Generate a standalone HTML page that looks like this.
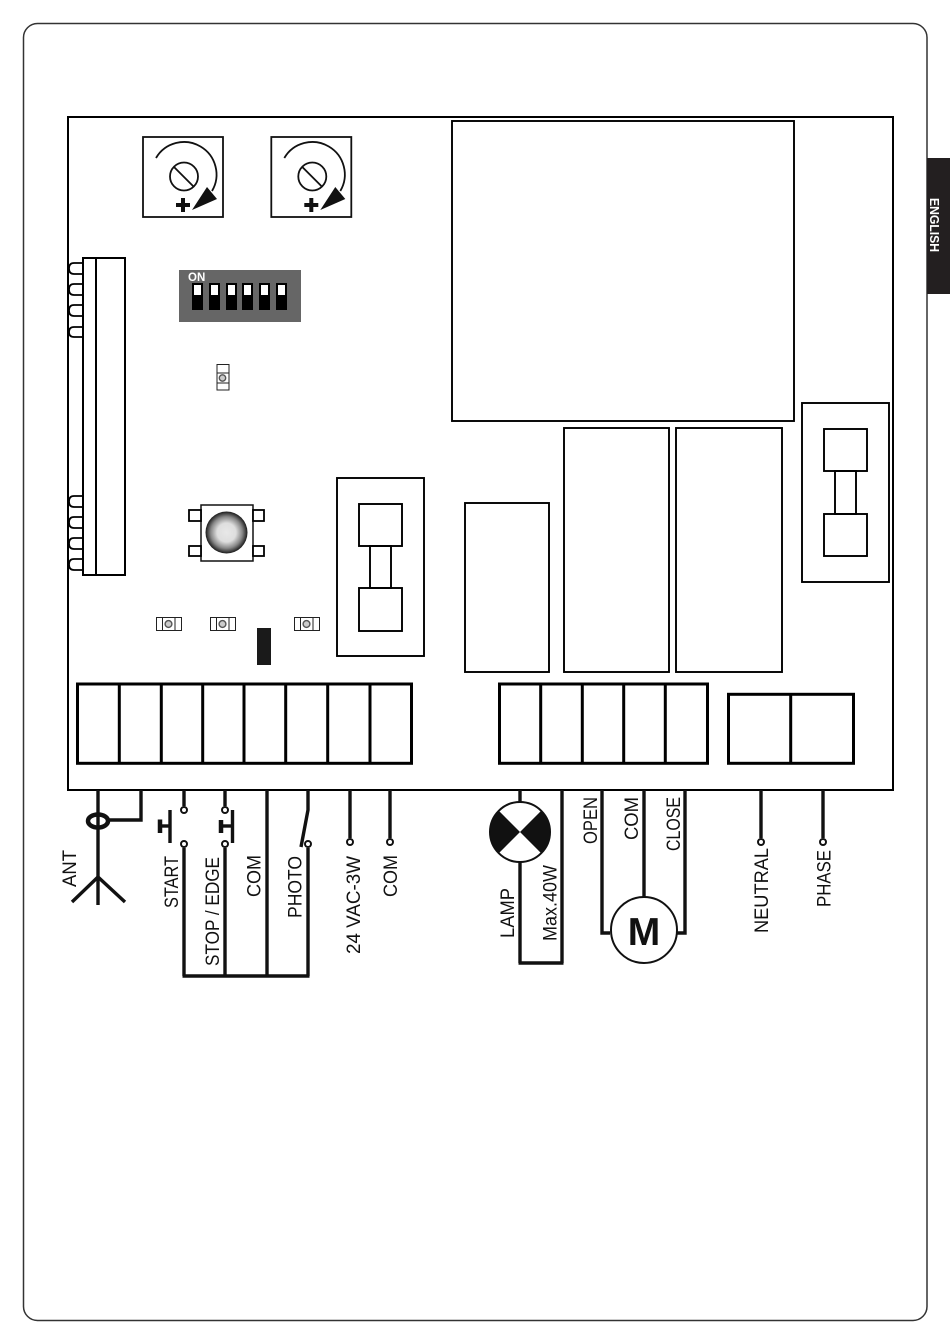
<!DOCTYPE html>
<html>
<head>
<meta charset="utf-8">
<style>
html,body{margin:0;padding:0;background:#fff;width:950px;height:1344px;overflow:hidden}
svg{display:block}
text{font-family:"Liberation Sans",sans-serif;fill:#111}
.l{font-size:19px}
</style>
</head>
<body>
<svg width="950" height="1344" viewBox="0 0 950 1344" xmlns="http://www.w3.org/2000/svg">
<defs>
<radialGradient id="b" cx="50%" cy="50%" r="50%">
<stop offset="0" stop-color="#e8e8e8"/>
<stop offset="0.45" stop-color="#dedede"/>
<stop offset="0.75" stop-color="#888"/>
<stop offset="1" stop-color="#1a1a1a"/>
</radialGradient>
</defs>
<rect width="950" height="1344" fill="#fff"/>
<rect x="23.5" y="23.5" width="903.5" height="1297" rx="14" fill="none" stroke="#333" stroke-width="1.5"/>
<rect x="927" y="158" width="23" height="136" fill="#231f20"/>
<text transform="translate(930,198) rotate(90)" font-size="13" font-weight="bold" style="fill:#fff" textLength="54" lengthAdjust="spacingAndGlyphs">ENGLISH</text>

<rect x="68" y="117" width="825" height="673" fill="none" stroke="#000" stroke-width="2"/>

<!-- trimmers -->
<g>
<rect x="143" y="137" width="80" height="80" fill="none" stroke="#111" stroke-width="1.8"/>
<circle cx="184" cy="176.5" r="14" fill="none" stroke="#111" stroke-width="1.8"/>
<line x1="174" y1="167" x2="194" y2="187" stroke="#111" stroke-width="1.8"/>
<path d="M156 158 A32.5 32.5 0 1 1 212 191" fill="none" stroke="#111" stroke-width="1.8"/>
<polygon points="207,187 217,199 192,210" fill="#111"/>
<rect x="176" y="203" width="14" height="4" fill="#111"/>
<rect x="181" y="198" width="4" height="14" fill="#111"/>
</g>
<g transform="translate(128.3,0)">
<rect x="143" y="137" width="80" height="80" fill="none" stroke="#111" stroke-width="1.8"/>
<circle cx="184" cy="176.5" r="14" fill="none" stroke="#111" stroke-width="1.8"/>
<line x1="174" y1="167" x2="194" y2="187" stroke="#111" stroke-width="1.8"/>
<path d="M156 158 A32.5 32.5 0 1 1 212 191" fill="none" stroke="#111" stroke-width="1.8"/>
<polygon points="207,187 217,199 192,210" fill="#111"/>
<rect x="176" y="203" width="14" height="4" fill="#111"/>
<rect x="181" y="198" width="4" height="14" fill="#111"/>
</g>

<!-- DIP -->
<rect x="179" y="270" width="122" height="52" fill="#666"/>
<text x="188" y="281" font-size="11.5" font-weight="bold" style="fill:#fff">ON</text>
<g fill="#000">
<rect x="192" y="283" width="11" height="27"/><rect x="209" y="283" width="11" height="27"/><rect x="226" y="283" width="11" height="27"/><rect x="242" y="283" width="11" height="27"/><rect x="259" y="283" width="11" height="27"/><rect x="276" y="283" width="11" height="27"/>
</g>
<g fill="#fff">
<rect x="194" y="285" width="7" height="10"/><rect x="211" y="285" width="7" height="10"/><rect x="228" y="285" width="7" height="10"/><rect x="244" y="285" width="7" height="10"/><rect x="261" y="285" width="7" height="10"/><rect x="278" y="285" width="7" height="10"/>
</g>

<!-- left connector -->
<rect x="83" y="258" width="42" height="317" fill="none" stroke="#000" stroke-width="2"/>
<line x1="96" y1="258" x2="96" y2="575" stroke="#000" stroke-width="2"/>
<g fill="none" stroke="#000" stroke-width="1.8">
<path d="M83 263H74Q69 263 69 268.5Q69 274 74 274H83"/>
<path d="M83 284H74Q69 284 69 289.5Q69 295 74 295H83"/>
<path d="M83 305H74Q69 305 69 310.5Q69 316 74 316H83"/>
<path d="M83 327H74Q69 327 69 332Q69 337 74 337H83"/>
<path d="M83 496H74Q69 496 69 501.5Q69 507 74 507H83"/>
<path d="M83 517H74Q69 517 69 522.5Q69 528 74 528H83"/>
<path d="M83 538H74Q69 538 69 543.5Q69 549 74 549H83"/>
<path d="M83 559H74Q69 559 69 564.5Q69 570 74 570H83"/>
</g>

<!-- small component vertical -->
<rect x="217" y="364.5" width="12" height="25.5" fill="#fff" stroke="#222" stroke-width="1"/>
<line x1="217" y1="373" x2="229" y2="373" stroke="#222"/>
<line x1="217" y1="383" x2="229" y2="383" stroke="#222"/>
<circle cx="222.5" cy="378" r="3.2" fill="#ccc" stroke="#555" stroke-width="1.4"/>

<!-- push button -->
<rect x="201" y="505" width="52" height="56" fill="#fff" stroke="#111" stroke-width="1.5"/>
<g fill="#fff" stroke="#000" stroke-width="1.8">
<rect x="189" y="510" width="12" height="11"/><rect x="189" y="546" width="12" height="10"/>
<rect x="253" y="510" width="11" height="11"/><rect x="253" y="546" width="11" height="10"/>
</g>
<circle cx="226.5" cy="532.5" r="21" fill="url(#b)"/>

<!-- small components horizontal -->
<g fill="none" stroke="#222" stroke-width="1">
<rect x="156.5" y="617.5" width="25" height="13"/><line x1="162.5" y1="617.5" x2="162.5" y2="630.5"/><line x1="175" y1="617.5" x2="175" y2="630.5"/>
<rect x="210.5" y="617.5" width="25" height="13"/><line x1="216.5" y1="617.5" x2="216.5" y2="630.5"/><line x1="229" y1="617.5" x2="229" y2="630.5"/>
<rect x="294.5" y="617.5" width="25" height="13"/><line x1="300.5" y1="617.5" x2="300.5" y2="630.5"/><line x1="313" y1="617.5" x2="313" y2="630.5"/>
</g>
<g fill="#ccc" stroke="#555" stroke-width="1.4">
<circle cx="168.5" cy="624" r="3.4"/><circle cx="222.5" cy="624" r="3.4"/><circle cx="306.5" cy="624" r="3.4"/>
</g>
<rect x="257" y="628" width="14" height="37" fill="#1a1a1a"/>

<!-- fuses -->
<g fill="none" stroke="#000" stroke-width="1.9">
<rect x="337" y="478" width="87" height="178"/>
<rect x="359" y="504" width="43" height="42"/>
<rect x="359" y="588" width="43" height="43"/>
<rect x="370" y="546" width="21" height="42"/>
<rect x="802" y="403" width="87" height="179"/>
<rect x="824" y="429" width="43" height="42"/>
<rect x="824" y="514" width="43" height="42"/>
<rect x="835" y="471" width="21" height="43"/>
<!-- relays -->
<rect x="452" y="121" width="342" height="300"/>
<rect x="564" y="428" width="105" height="244"/>
<rect x="676" y="428" width="106" height="244"/>
<rect x="465" y="503" width="84" height="169"/>
</g>

<!-- terminals -->
<g fill="none" stroke="#000" stroke-width="3">
<rect x="77.5" y="684" width="334" height="79.3"/>
<path d="M119.3 684V763M161.3 684V763M202.7 684V763M244 684V763M285.7 684V763M327.7 684V763M370 684V763"/>
<rect x="499.5" y="684" width="208" height="79.3"/>
<path d="M540.7 684V763M582.3 684V763M623.7 684V763M665.3 684V763"/>
<rect x="728.5" y="694.3" width="125" height="69"/>
<path d="M790.7 694V763"/>
</g>

<!-- wiring -->
<g fill="none" stroke="#111" stroke-width="3.4">
<path d="M98 790V905"/>
<ellipse cx="98" cy="821" rx="10" ry="6.5" stroke-width="4.5"/>
<path d="M108 820H141V790"/>
<path d="M72 902L98 877L125 902"/>
<path d="M184 790V806"/>
<path d="M184 848V976"/>
<path d="M170 810V843"/>
<path d="M170 826H160"/>
<path d="M160 819.5V833" stroke-width="4.5"/>
<path d="M225 790V806"/>
<path d="M225 848V976"/>
<path d="M232.5 810V843"/>
<path d="M232.5 826H221"/>
<path d="M221 820V833" stroke-width="4.5"/>
<path d="M267 790V976"/>
<path d="M308 790V810L301 847"/>
<path d="M308 848V976"/>
<path d="M182.5 976H309.5"/>
<path d="M350 790V838"/>
<path d="M390 790V838"/>
<path d="M520 790V802M520 862V963"/>
<path d="M562 790V963"/>
<path d="M518.5 963H563.5"/>
<path d="M602 790V933H610"/>
<path d="M644 790V897"/>
<path d="M685 790V933H677"/>
<path d="M761 790V838"/>
<path d="M823 790V838"/>
</g>
<g fill="#fff" stroke="#111" stroke-width="2">
<circle cx="184" cy="810" r="3"/><circle cx="184" cy="844" r="3"/>
<circle cx="225" cy="810" r="3"/><circle cx="225" cy="844" r="3"/>
<circle cx="308" cy="844" r="3"/>
<circle cx="350" cy="842" r="3"/><circle cx="390" cy="842" r="3"/>
<circle cx="761" cy="842" r="3"/><circle cx="823" cy="842" r="3"/>
</g>

<!-- lamp -->
<circle cx="520" cy="832" r="30" fill="#fff" stroke="#111" stroke-width="2"/>
<path d="M520 832L498.8 810.8A30 30 0 0 0 498.8 853.2Z" fill="#111"/>
<path d="M520 832L541.2 810.8A30 30 0 0 1 541.2 853.2Z" fill="#111"/>

<!-- motor -->
<circle cx="644" cy="930" r="33" fill="#fff" stroke="#111" stroke-width="2"/>
<text x="644" y="945" font-size="39" font-weight="bold" text-anchor="middle">M</text>

<!-- labels -->
<g class="l">
<text class="l" transform="translate(76,887) rotate(-90)" textLength="37" lengthAdjust="spacingAndGlyphs">ANT</text>
<text class="l" transform="translate(178,908) rotate(-90)" textLength="52" lengthAdjust="spacingAndGlyphs">START</text>
<text class="l" transform="translate(219,966) rotate(-90)" textLength="109" lengthAdjust="spacingAndGlyphs">STOP / EDGE</text>
<text class="l" transform="translate(260.5,897) rotate(-90)" textLength="42" lengthAdjust="spacingAndGlyphs">COM</text>
<text class="l" transform="translate(301.5,918) rotate(-90)" textLength="62" lengthAdjust="spacingAndGlyphs">PHOTO</text>
<text class="l" transform="translate(360,954) rotate(-90)" textLength="98" lengthAdjust="spacingAndGlyphs">24 VAC-3W</text>
<text class="l" transform="translate(397,897) rotate(-90)" textLength="42" lengthAdjust="spacingAndGlyphs">COM</text>
<text class="l" transform="translate(514,938) rotate(-90)" textLength="50" lengthAdjust="spacingAndGlyphs">LAMP</text>
<text class="l" transform="translate(556.5,941) rotate(-90)" textLength="76" lengthAdjust="spacingAndGlyphs">Max.40W</text>
<text class="l" transform="translate(597,844) rotate(-90)" textLength="47" lengthAdjust="spacingAndGlyphs">OPEN</text>
<text class="l" transform="translate(638,840) rotate(-90)" textLength="43" lengthAdjust="spacingAndGlyphs">COM</text>
<text class="l" transform="translate(680,851) rotate(-90)" textLength="54" lengthAdjust="spacingAndGlyphs">CLOSE</text>
<text class="l" transform="translate(768,933) rotate(-90)" textLength="85" lengthAdjust="spacingAndGlyphs">NEUTRAL</text>
<text class="l" transform="translate(830.5,907) rotate(-90)" textLength="57" lengthAdjust="spacingAndGlyphs">PHASE</text>
</g>
</svg>
</body>
</html>
